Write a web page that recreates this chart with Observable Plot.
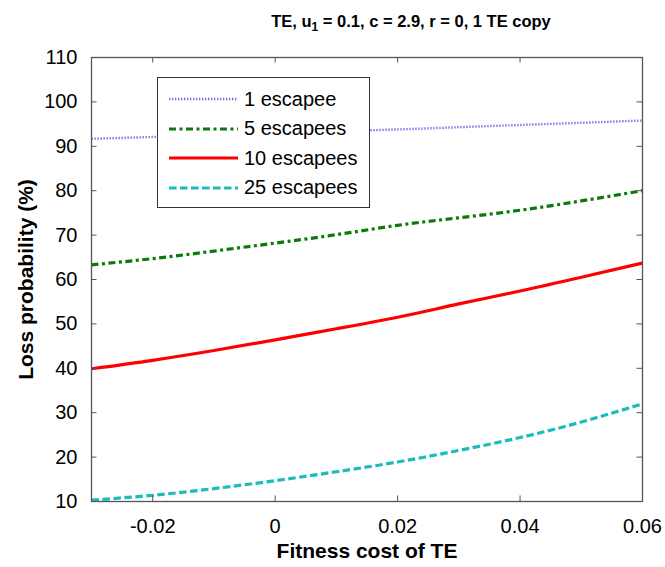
<!DOCTYPE html>
<html>
<head>
<meta charset="utf-8">
<script src="https://cdn.jsdelivr.net/npm/d3@7"></script>
<script src="https://cdn.jsdelivr.net/npm/@observablehq/plot@0.6"></script>
<style>
  html, body { margin: 0; padding: 0; background: #fff; }
  #wrap { position: relative; width: 665px; height: 567px; font-family: "Liberation Sans", Arial, sans-serif; }
  #title { position: absolute; top: 13px; left: 411px; transform: translateX(-50%); white-space: nowrap;
           font-size: 16.5px; font-weight: bold; line-height: 16px; color: #000; }
  #title sub { font-size: 12px; vertical-align: -4px; line-height: 0; }
  #legend { position: absolute; left: 157px; top: 77px; width: 211px; height: 129px; border: 1px solid #333; background: #fff; }
  .row { position: absolute; left: 11px; height: 24px; display: flex; align-items: center; font-size: 20px; color: #000; }
  .row svg { margin-right: 6px; }
</style>
</head>
<body>
<div id="wrap">
  <div id="chart"></div>
  <div id="title">TE, u<sub>1</sub> = 0.1, c = 2.9, r = 0, 1 TE copy</div>
  <div id="legend"></div>
</div>
<script>
const fitnessCost = [-0.03, -0.02, -0.01, 0, 0.01, 0.02, 0.03, 0.04, 0.05, 0.06];
const escapee1   = [91.7, 92.1, 92.6, 93.0, 93.4, 93.8, 94.3, 94.8, 95.3, 95.8];
const escapees5  = [63.3, 64.7, 66.4, 68.2, 70.1, 72.2, 73.9, 75.6, 77.7, 80.0];
const escapees10 = [39.9, 41.8, 44.0, 46.4, 48.9, 51.5, 54.5, 57.4, 60.5, 63.7];
const escapees25 = [10.3, 11.4, 12.9, 14.7, 16.7, 18.9, 21.5, 24.4, 27.9, 32.0];
const seriesNames = ["1 escapee", "5 escapees", "10 escapees", "25 escapees"];
const xTicks = [-0.02, 0, 0.02, 0.04, 0.06];
const yTicks = [10, 20, 30, 40, 50, 60, 70, 80, 90, 100, 110];

const styles = [
  {stroke: "#6a6ae6", strokeWidth: 2.4, strokeDasharray: "1.3,1.7"},
  {stroke: "#0b7a0b", strokeWidth: 3.2, strokeDasharray: "7,3.5,3,3.5"},
  {stroke: "#ff0000", strokeWidth: 3.2, strokeDasharray: null},
  {stroke: "#1cbcbc", strokeWidth: 3.2, strokeDasharray: "7.5,3.5"}
];
const allSeries = [escapee1, escapees5, escapees10, escapees25];
const tables = allSeries.map(vals => fitnessCost.map((x, i) => ({x, y: vals[i]})));

const xDom = [-0.03, 0.06], yDom = [10, 110];
const tickLenX = 0.0009, tickLenY = 1.25;
const frameColor = "#555";

const chart = Plot.plot({
  width: 665, height: 567,
  marginLeft: 91, marginRight: 23, marginTop: 57, marginBottom: 66,
  style: {fontFamily: "Liberation Sans, Arial, sans-serif", background: "transparent", color: "#000"},
  x: {domain: xDom, ticks: xTicks},
  y: {domain: yDom, ticks: yTicks},
  marks: [
    ...tables.map((t, i) => Plot.line(t, {x: "x", y: "y", curve: "natural", strokeLinecap: "butt", strokeLinejoin: "miter", ...styles[i]})),
    Plot.ruleX(xTicks, {x: d => d, y1: yDom[0], y2: yDom[0] + tickLenY, stroke: frameColor}),
    Plot.ruleX(xTicks, {x: d => d, y1: yDom[1], y2: yDom[1] - tickLenY, stroke: frameColor}),
    Plot.ruleY(yTicks, {y: d => d, x1: xDom[0], x2: xDom[0] + tickLenX, stroke: frameColor}),
    Plot.ruleY(yTicks, {y: d => d, x1: xDom[1], x2: xDom[1] - tickLenX, stroke: frameColor}),
    Plot.frame({stroke: frameColor, strokeWidth: 1.3}),
    Plot.axisX({ticks: xTicks, tickSize: 0, tickPadding: 17, fontSize: 20, tickFormat: d => d === 0 ? "0" : String(d),
      label: "Fitness cost of TE", labelAnchor: "center", labelOffset: 56, labelArrow: "none"}),
    Plot.axisY({ticks: yTicks, tickSize: 0, tickPadding: 14, fontSize: 20,
      label: "Loss probability (%)", labelAnchor: "center", labelOffset: 73, labelArrow: "none"})
  ]
});
// bold axis titles
chart.querySelectorAll('g[aria-label="x-axis label"] text, g[aria-label="y-axis label"] text').forEach(t => {
  t.setAttribute("font-weight", "bold");
  t.setAttribute("font-size", "21");
});
document.getElementById("chart").appendChild(chart);

// legend
const legend = document.getElementById("legend");
const rowTops = [9, 38.5, 68, 97.5];
seriesNames.forEach((name, i) => {
  const row = document.createElement("div");
  row.className = "row";
  row.style.top = rowTops[i] + "px";
  const s = styles[i];
  row.innerHTML = `<svg width="69" height="10"><line x1="0" x2="69" y1="5" y2="5" stroke="${s.stroke}" stroke-width="${s.strokeWidth}" ${s.strokeDasharray ? `stroke-dasharray="${s.strokeDasharray}"` : ""}/></svg><span>${name}</span>`;
  legend.appendChild(row);
});
</script>
</body>
</html>
